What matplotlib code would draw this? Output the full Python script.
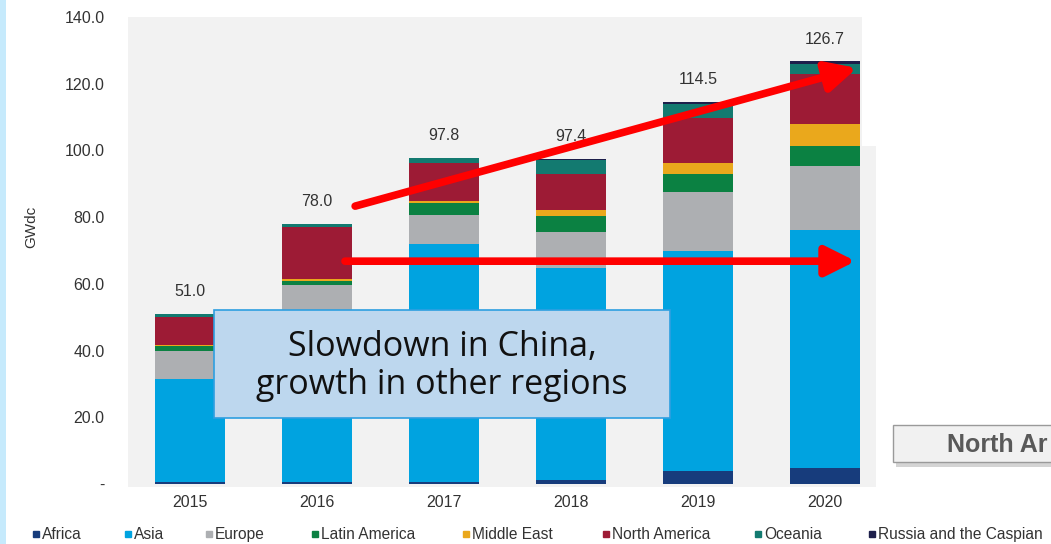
import matplotlib

matplotlib.use("Agg")
import matplotlib.pyplot as plt
from matplotlib.lines import Line2D
from matplotlib.patches import Rectangle
import numpy as np

plt.rcParams["font.family"] = ["Liberation Sans", "DejaVu Sans"]

# data (GWdc)
years = ["2015", "2016", "2017", "2018", "2019", "2020"]
totals = [51.0, 78.0, 97.8, 97.4, 114.5, 126.7]
regions = ["Africa", "Asia", "Europe", "Latin America", "Middle East",
           "North America", "Oceania", "Russia and the Caspian"]
africa = [0.5, 0.6, 0.5, 1.2, 3.8, 4.8]
asia = [30.9, 50.9, 71.3, 63.5, 66.1, 71.3]
europe = [8.6, 8.1, 8.8, 10.7, 17.5, 19.2]
latin_america = [1.5, 1.3, 3.6, 5.0, 5.4, 6.0]
middle_east = [0.3, 0.6, 0.6, 1.7, 3.3, 6.6]
north_america = [8.2, 15.5, 11.3, 10.7, 13.7, 15.0]
oceania = [0.9, 0.8, 1.5, 4.4, 4.1, 3.0]
russia = [0.1, 0.2, 0.2, 0.2, 0.6, 0.8]
yticks = [0, 20, 40, 60, 80, 100, 120, 140]
ytick_labels = ["-", "20.0", "40.0", "60.0", "80.0", "100.0", "120.0", "140.0"]

series = [africa, asia, europe, latin_america, middle_east,
          north_america, oceania, russia]
colors = ["#173c7c", "#00a3e0", "#adafb2", "#0b8142", "#eaa81c",
          "#9d1b35", "#137a70", "#1d1f4b"]

W, H = 1051, 544
fig = plt.figure(figsize=(W / 100, H / 100), dpi=100)
fig.patch.set_facecolor("white")


def fx(px):
    return px / W


def fy(py):
    return 1 - py / H


ax = fig.add_axes([fx(128), fy(487), fx(876) - fx(128), fy(17) - fy(487)])
ax.set_facecolor("#f2f2f2")
x = np.arange(len(years))
bottom = np.zeros(len(years))
for vals, col in zip(series, colors):
    ax.bar(x, vals, width=0.55, bottom=bottom, color=col, linewidth=0, zorder=2)
    bottom += np.array(vals)

for xi, t in zip(x, totals):
    ax.annotate(f"{t:.1f}", xy=(xi, t), xytext=(0, 16), textcoords="offset points",
                ha="center", va="center", fontsize=11.5, color="#333333")

ax.set_xlim(-0.488, 5.40)
ax.set_ylim(-0.9, 140)
ax.set_xticks(x)
ax.set_xticklabels(years, fontsize=11.5, color="#333333")
ax.set_yticks(yticks)
ax.set_yticklabels(ytick_labels, fontsize=11.5, color="#333333")
ax.tick_params(length=0)
ax.tick_params(axis="y", pad=17)
ax.tick_params(axis="x", pad=6)
for s in ax.spines.values():
    s.set_visible(False)

# red arrows
arrow_kw = dict(arrowstyle="-|>,head_length=0.9,head_width=0.45", color="#ff0000",
                lw=5.5, shrinkA=0, shrinkB=0, mutation_scale=20)
ax.annotate("", xy=(5.25, 124.7), xytext=(1.30, 83.3), arrowprops=arrow_kw, zorder=5)
ax.annotate("", xy=(5.24, 66.8), xytext=(1.22, 66.8), arrowprops=arrow_kw, zorder=5)

# callout box
box = Rectangle((fx(214), fy(418)), fx(670) - fx(214), fy(310) - fy(418),
                transform=fig.transFigure, facecolor="#bdd7ee", edgecolor="#2e9fe0",
                linewidth=1.2, zorder=10)
fig.add_artist(box)
fig.text(fx(442), fy(366), "Slowdown in China,\ngrowth in other regions",
         ha="center", va="center", fontsize=24.5, family=["Open Sans", "DejaVu Sans"],
         color="#111111", linespacing=1.12, zorder=11)

# white cover at top right of plot area
fig.add_artist(Rectangle((fx(862), fy(146)), fx(890) - fx(862), fy(15) - fy(146),
                         transform=fig.transFigure, facecolor="white",
                         edgecolor="none", zorder=9))

# left blue strip
fig.add_artist(Rectangle((0, 0), fx(6), 1, transform=fig.transFigure,
                         facecolor="#c6eafc", edgecolor="none"))

# y label
fig.text(fx(31), fy(227), "GWdc", rotation=90, ha="center", va="center",
         fontsize=11, color="#333333")

# "North America" button, cut off at the right edge of the slide
fig.add_artist(Rectangle((fx(896), fy(467)), fx(1060) - fx(896), fy(428) - fy(467),
                         transform=fig.transFigure, facecolor="#d4d4d4",
                         edgecolor="none", zorder=3))
fig.add_artist(Rectangle((fx(893), fy(462)), fx(1060) - fx(893), fy(425) - fy(462),
                         transform=fig.transFigure, facecolor="#f1f1f1",
                         edgecolor="#9a9a9a", linewidth=1.0, zorder=4))
fig.text(fx(947), fy(445), "North Ar", ha="left", va="center", fontsize=18,
         fontweight="bold", color="#595959", zorder=5)

# legend
leg_x = [33, 125, 206, 312, 463, 603, 755, 869]
for px, name, col in zip(leg_x, regions, colors):
    fig.add_artist(Line2D([fx(px + 3)], [fy(534)], marker="s", markersize=5,
                          color=col, linestyle="none", transform=fig.transFigure))
    fig.text(fx(px + 9), fy(539), name, ha="left", va="baseline", fontsize=11.2,
             color="#333333")

fig.savefig("out.png", dpi=100)
